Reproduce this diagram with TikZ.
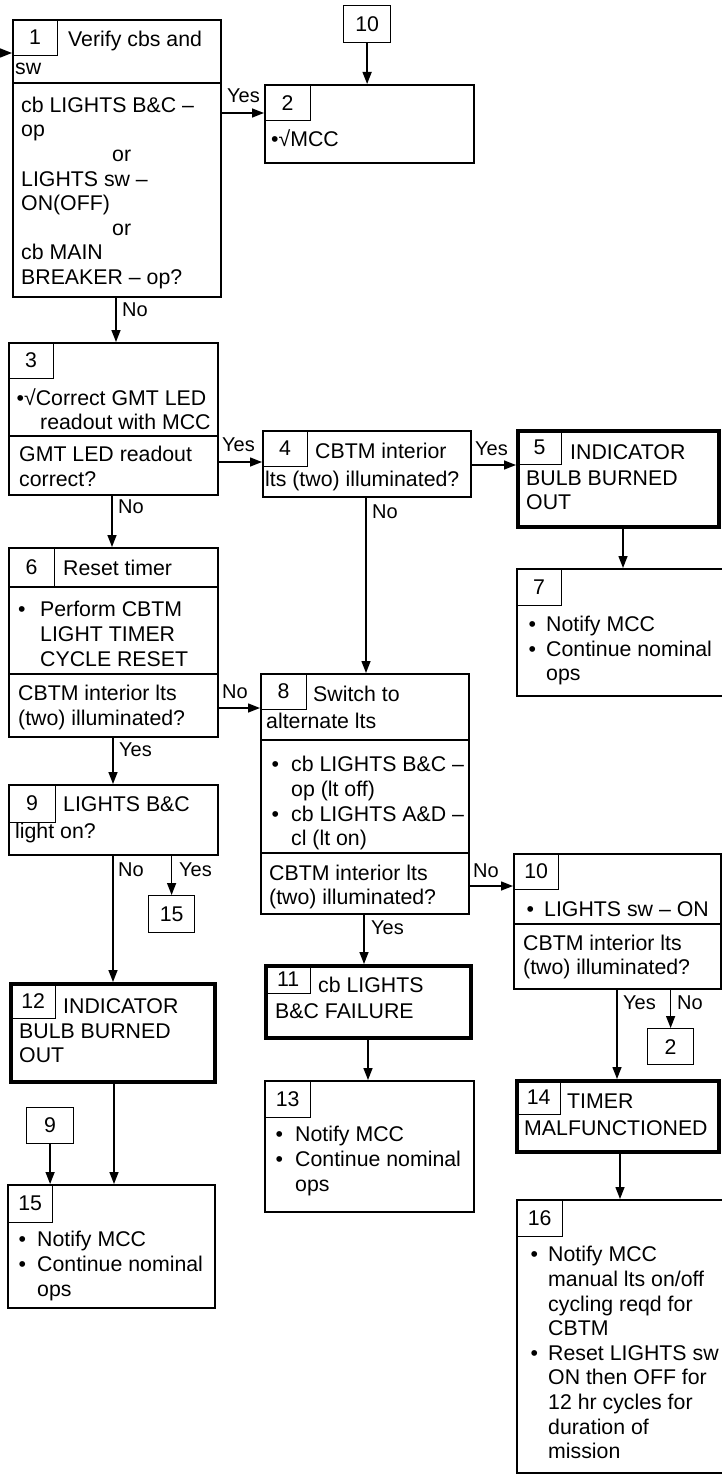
\documentclass[tikz,border=0pt]{standalone}
\usepackage{fontspec}
\setmainfont{Liberation Sans}
\usetikzlibrary{arrows.meta,calc}
\tikzset{
  x=1pt, y=-1pt,
  box/.style={draw, line width=1.8pt, inner sep=0pt, anchor=north west},
  thickbox/.style={draw, line width=4pt, inner sep=0pt, anchor=north west},
  numbox/.style={draw, line width=1.2pt, inner sep=0pt, anchor=north west, font=\fontsize{21.3}{24.6}\selectfont},
  txt/.style={inner sep=0pt, anchor=north west, align=left, font=\fontsize{21.3}{24.6}\selectfont},
  lbl/.style={inner sep=0pt, anchor=base west, font=\fontsize{20}{24}\selectfont},
  arr/.style={line width=1.4pt, -{Triangle[length=12pt,width=9pt]}},
  sepline/.style={line width=1.8pt},
}
% box: style, name, x1, y1, x2, y2, text
\newcommand\bx[7]{\node[#1, minimum width={(#5-#3)*1pt}, minimum height={(#6-#4)*1pt}] (#2) at (#3,#4) {#7};}
% text block: name, x, first baseline, text
\newcommand\tb[4]{\node[txt] (#1) at (#2,{#3-17}) {\rule{0pt}{17pt}#4};}
\newcommand\bl[1]{\makebox[#1pt][l]{•}}
\newcommand\ind[1]{\hspace*{#1pt}}
\newcommand\vc[3]{\coordinate (#1) at ($(#2.south west)+(#3,0)$);}
\newcommand\hc[3]{\coordinate (#1) at ($(#2.north east)+(0,#3)$);}
\begin{document}
\begin{tikzpicture}
\useasboundingbox (0,0) rectangle (721,1474);
\fill[white] (0,0) rectangle (721,1474);

% ---- Box 1
\bx{box}{b1}{12}{19}{220}{296}{}
\bx{numbox}{n1}{12}{19}{57}{55}{1}
\draw[sepline] (b1.west |- 0,83) -- (b1.east |- 0,83);
\node[txt, anchor=base west] (t1a) at (68,46.7) {Verify cbs and};
\node[txt, anchor=base west] (t1b) at (15,75) {sw};
\tb{t1c}{21}{112}{cb LIGHTS B\&C –\\op\\\ind{91}or\\LIGHTS sw –\\ON(OFF)\\\ind{91}or\\cb MAIN\\BREAKER – op?}

% ---- Box 2
\bx{box}{b2}{264}{84}{473}{162}{}
\bx{numbox}{n2}{264}{84}{310}{120}{2}
\node[txt, anchor=base west] (t2) at (271,146.7) {•√MCC};
\bx{numbox}{r10a}{343}{5}{390}{42}{10}

% ---- Box 3
\bx{box}{b3}{8}{342}{217}{494}{}
\bx{numbox}{n3}{8}{342}{53}{378}{3}
\draw[sepline] (b3.west |- 0,436) -- (b3.east |- 0,436);
\tb{t3a}{16.5}{405}{•√Correct GMT LED\\\ind{23.5}readout with MCC}
\tb{t3b}{19}{461.7}{GMT LED readout\\correct?}

% ---- Box 4
\bx{box}{b4}{262}{430}{470}{496}{}
\bx{numbox}{n4}{262}{430}{307}{466}{4}
\node[txt, anchor=base west] (t4a) at (315,458) {CBTM interior};
\node[txt, anchor=base west] (t4b) at (265,486) {lts (two) illuminated?};

% ---- Box 5
\bx{thickbox}{b5}{516}{429}{717}{525}{}
\bx{numbox}{n5}{517}{430}{561}{464}{5}
\node[txt, anchor=base west] (t5a) at (570,459.3) {INDICATOR};
\tb{t5b}{526}{485}{BULB BURNED\\OUT}

% ---- Box 6
\bx{box}{b6}{8}{547}{217}{736}{}
\bx{numbox}{n6}{8}{547}{54}{587}{6}
\draw[sepline] (b6.west |- 0,587) -- (b6.east |- 0,587);
\node[txt, anchor=base west] (t6a) at (63,575) {Reset timer};
\tb{t6b}{18}{616.7}{\bl{22}Perform CBTM\\\ind{22}LIGHT TIMER\\\ind{22}CYCLE RESET}
\draw[sepline] (b6.west |- 0,674) -- (b6.east |- 0,674);
\tb{t6c}{18}{700.7}{CBTM interior lts\\(two) illuminated?}

% ---- Box 7
\bx{box}{b7}{516}{568}{723}{695}{}
\bx{numbox}{n7}{516}{568}{561}{605}{7}
\tb{t7}{528.5}{631.5}{\bl{17.5}Notify MCC\\\bl{17.5}Continue nominal\\\ind{17.5}ops}

% ---- Box 8
\bx{box}{b8}{260}{673}{468}{913}{}
\bx{numbox}{n8}{260}{673}{306}{709}{8}
\node[txt, anchor=base west] (t8a) at (313,701.7) {Switch to};
\node[txt, anchor=base west] (t8b) at (266,728.3) {alternate lts};
\draw[sepline] (b8.west |- 0,740) -- (b8.east |- 0,740);
\tb{t8c}{271.5}{771.7}{\bl{19.5}cb LIGHTS B\&C –\\\ind{19.5}op (lt off)\\\bl{19.5}cb LIGHTS A\&D –\\\ind{19.5}cl (lt on)}
\draw[sepline] (b8.west |- 0,853) -- (b8.east |- 0,853);
\tb{t8d}{269}{880}{CBTM interior lts\\(two) illuminated?}

% ---- Box 9
\bx{box}{b9}{8}{784}{217}{854}{}
\bx{numbox}{n9}{8}{784}{55}{822}{9}
\node[txt, anchor=base west] (t9a) at (63,811.7) {LIGHTS B\&C};
\node[txt, anchor=base west] (t9b) at (15,838.3) {light on?};
\bx{numbox}{r15}{148}{895}{194}{932}{15}

% ---- Box 10
\bx{box}{b10}{513}{853}{720}{988}{}
\bx{numbox}{n10}{513}{853}{558}{889}{10}
\node[txt, anchor=base west] (t10a) at (526.5,916) {\bl{17.5}LIGHTS sw – ON};
\draw[sepline] (b10.west |- 0,924) -- (b10.east |- 0,924);
\tb{t10b}{523}{950}{CBTM interior lts\\(two) illuminated?}
\bx{numbox}{r2}{647}{1028}{693}{1064}{2}

% ---- Box 11
\bx{thickbox}{b11}{264}{964}{469}{1036}{}
\bx{numbox}{n11}{265}{965}{310}{993}{11}
\node[txt, anchor=base west] (t11a) at (318,992) {cb LIGHTS};
\node[txt, anchor=base west] (t11b) at (275,1018) {B\&C FAILURE};

% ---- Box 12
\bx{thickbox}{b12}{9}{982}{213}{1080}{}
\bx{numbox}{n12}{10}{983}{55}{1018}{12}
\node[txt, anchor=base west] (t12a) at (63,1013) {INDICATOR};
\tb{t12b}{19}{1038}{BULB BURNED\\OUT}

% ---- Box 13
\bx{box}{b13}{264}{1080}{473}{1211}{}
\bx{numbox}{n13}{264}{1080}{310}{1117}{13}
\tb{t13}{275.5}{1141.7}{\bl{19.5}Notify MCC\\\bl{19.5}Continue nominal\\\ind{19.5}ops}

% ---- Box 14
\bx{thickbox}{b14}{515}{1079}{717}{1150}{}
\bx{numbox}{n14}{516}{1080}{560}{1114}{14}
\node[txt, anchor=base west] (t14a) at (567,1108) {TIMER};
\node[txt, anchor=base west] (t14b) at (524,1135) {MALFUNCTIONED};

% ---- Box 15
\bx{numbox}{r9}{26}{1107}{73}{1143}{9}
\bx{box}{b15}{7}{1184}{214}{1307}{}
\bx{numbox}{n15}{7}{1184}{52}{1222}{15}
\tb{t15}{18.5}{1246.7}{\bl{18.5}Notify MCC\\\bl{18.5}Continue nominal\\\ind{18.5}ops}

% ---- Box 16
\bx{box}{b16}{516}{1199}{723}{1472}{}
\bx{numbox}{n16}{516}{1199}{562}{1236}{16}
\tb{t16}{530.5}{1261.7}{\bl{17.5}Notify MCC\\\ind{17.5}manual lts on/off\\\ind{17.5}cycling reqd for\\\ind{17.5}CBTM\\\bl{17.5}Reset LIGHTS sw\\\ind{17.5}ON then OFF for\\\ind{17.5}12 hr cycles for\\\ind{17.5}duration of\\\ind{17.5}mission}

% ---- Connectors
\coordinate (lin) at (0,53);
\draw[arr] (lin) -- (lin -| b1.west);
\draw[arr] (r10a.south) -- (r10a.south |- b2.north);
\hc{a1}{b1}{94}   \draw[arr] (a1) -- (a1 -| b2.west);
\vc{a2}{b1}{104}  \draw[arr] (a2) -- (a2 |- b3.north);
\hc{a3}{b3}{120}  \draw[arr] (a3) -- (a3 -| b4.west);
\vc{a4}{b3}{104}  \draw[arr] (a4) -- (a4 |- b6.north);
\hc{a5}{b4}{35}   \draw[arr] (a5) -- (a5 -| b5.west);
\vc{a6}{b4}{104}  \draw[arr] (a6) -- (a6 |- b8.north);
\vc{a7}{b5}{107}  \draw[arr] (a7) -- (a7 |- b7.north);
\hc{a8}{b6}{161}  \draw[arr] (a8) -- (a8 -| b8.west);
\vc{a9}{b6}{105}  \draw[arr] (a9) -- (a9 |- b9.north);
\vc{a10}{b9}{105} \draw[arr] (a10) -- (a10 |- b12.north);
\draw[arr] (r15.north |- b9.south) -- (r15.north);
\hc{a11}{b8}{213} \draw[arr] (a11) -- (a11 -| b10.west);
\vc{a12}{b8}{104} \draw[arr] (a12) -- (a12 |- b11.north);
\vc{a13}{b10}{104} \draw[arr] (a13) -- (a13 |- b14.north);
\draw[arr] (r2.north |- b10.south) -- (r2.north);
\vc{a14}{b11}{104} \draw[arr] (a14) -- (a14 |- b13.north);
\vc{a15}{b12}{105} \draw[arr] (a15) -- (a15 |- b15.north);
\draw[arr] (r9.south) -- (r9.south |- b15.north);
\vc{a16}{b14}{105} \draw[arr] (a16) -- (a16 |- b16.north);

% ---- Labels
\node[lbl] (l1) at (227,103) {Yes};
\node[lbl] (l2) at (122,316.7) {No};
\node[lbl] (l3) at (222,451.7) {Yes};
\node[lbl] (l4) at (118,513) {No};
\node[lbl] (l5) at (475,455) {Yes};
\node[lbl] (l6) at (372,518) {No};
\node[lbl] (l7) at (222,698) {No};
\node[lbl] (l8) at (119,756.7) {Yes};
\node[lbl] (l9) at (118,876.7) {No};
\node[lbl] (l10) at (179,876.7) {Yes};
\node[lbl] (l11) at (473,877) {No};
\node[lbl] (l12) at (371,934) {Yes};
\node[lbl] (l13) at (623,1009) {Yes};
\node[lbl] (l14) at (677,1009) {No};
\end{tikzpicture}
\end{document}
